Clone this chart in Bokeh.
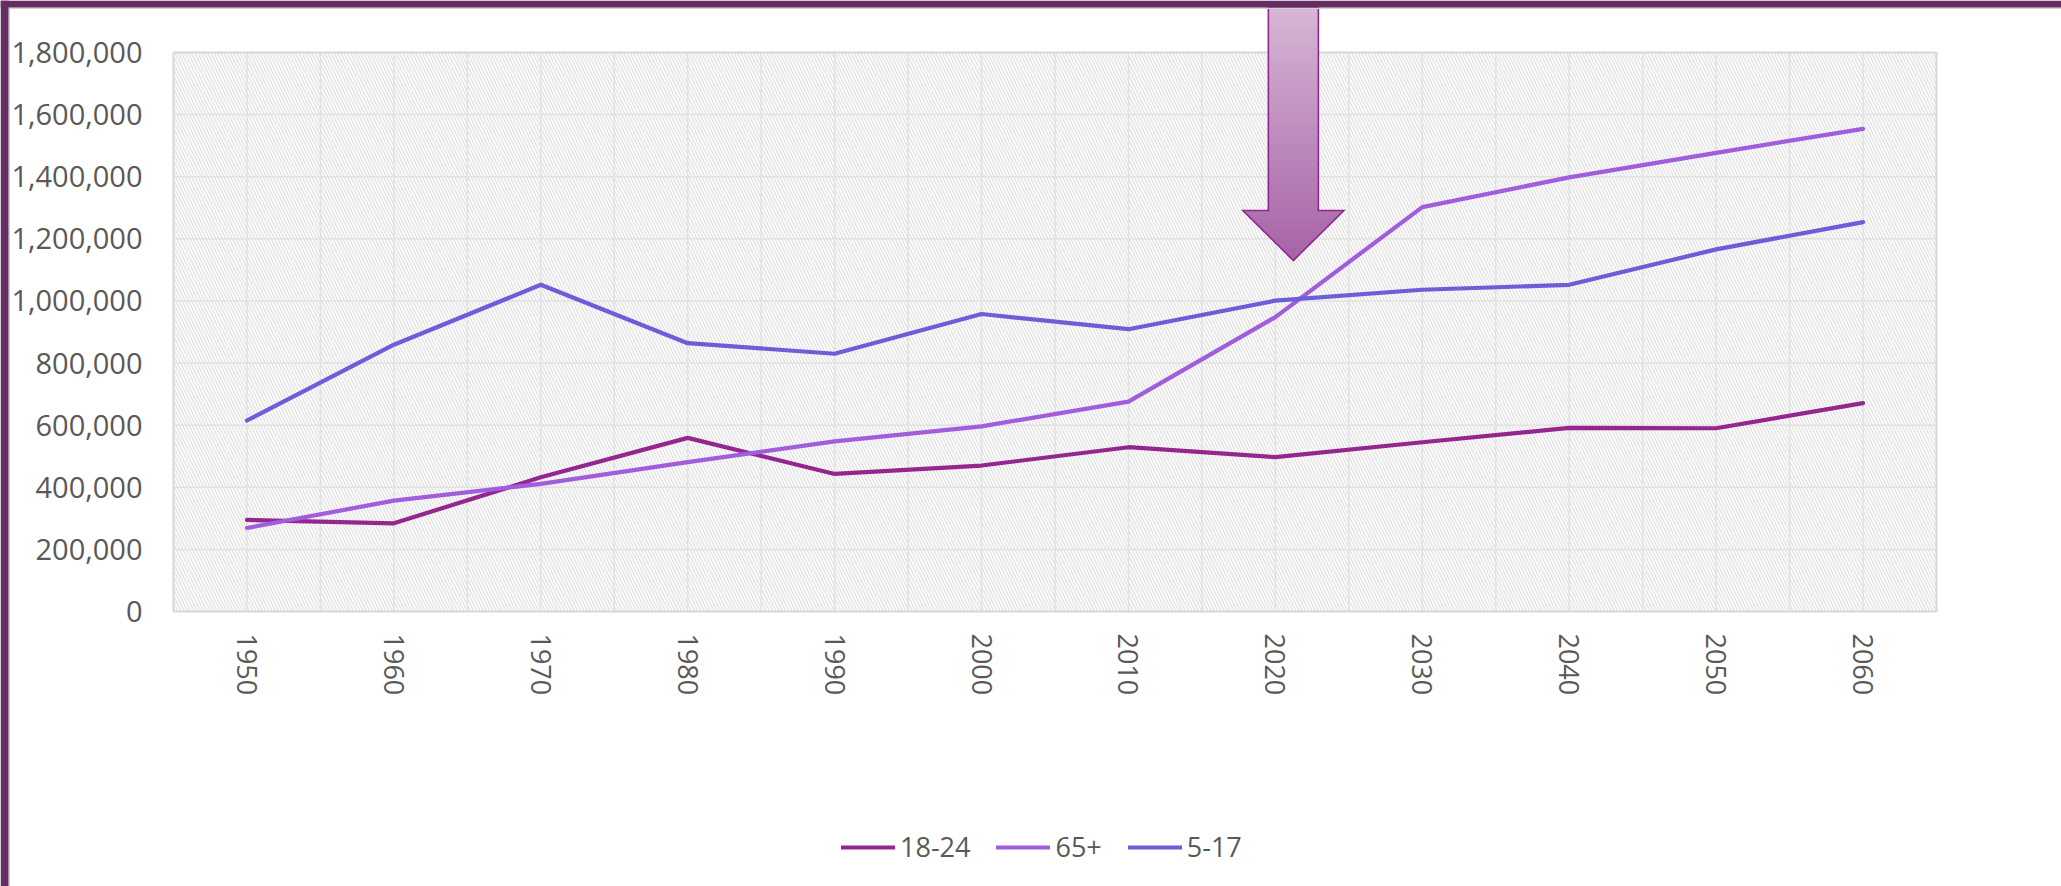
import math
from bokeh.plotting import figure
from bokeh.models import (Range1d, FixedTicker, NumeralTickFormatter, Legend, LegendItem,
                          LinearAxis, BoxAnnotation)
from bokeh.embed import file_html
from bokeh.resources import INLINE

# ---------------- data ----------------
years = [1950, 1960, 1970, 1980, 1990, 2000, 2010, 2020, 2030, 2040, 2050, 2060]
age_18_24 = [295000, 284000, 432000, 559000, 443000, 470000, 529000, 497000, 545000, 591000, 590000, 671000]
age_65_plus = [269000, 357000, 411000, 481000, 548000, 596000, 676000, 948000, 1302000, 1398000, 1477000, 1554000]
age_5_17 = [615000, 859000, 1052000, 864000, 830000, 958000, 909000, 1001000, 1036000, 1052000, 1166000, 1254000]
series_names = ["18-24", "65+", "5-17"]
y_ticks = [0, 200000, 400000, 600000, 800000, 1000000, 1200000, 1400000, 1600000, 1800000]
highlight_year = 2020

# ---------------- styling ----------------
FONT = "Open Sans"
TEXT = "#595959"
COLORS = ["#93278F", "#A25DDC", "#6C5DD8"]
GRID = "#E2E2E2"
BORDER = "#652D61"

W, H = 2061, 886
PLOT_L, PLOT_R, PLOT_T, PLOT_B = 173, 1936, 52, 611   # pixel box of the hatched area
n = len(years)
xs = list(range(n))
Y_TOP_VAL = y_ticks[-1]
ppx = (PLOT_R - PLOT_L) / n
ppy = (PLOT_B - PLOT_T) / Y_TOP_VAL
x_start = -0.5 - PLOT_L / ppx
x_end = -0.5 + (W - PLOT_L) / ppx
y_start = -(H - PLOT_B) / ppy
y_end = PLOT_B / ppy

p = figure(width=W, height=H, output_backend="svg", toolbar_location=None,
           x_range=Range1d(x_start, x_end), y_range=Range1d(y_start, y_end),
           x_axis_location=None, y_axis_location=None,
           min_border=0, min_border_left=0, min_border_right=0,
           min_border_top=0, min_border_bottom=0,
           background_fill_color="white", border_fill_color="white")
p.outline_line_color = None
p.xgrid.visible = False
p.ygrid.visible = False

# hatched plot area
p.quad(left=[-0.5], right=[n - 0.5], bottom=[0], top=[Y_TOP_VAL],
       fill_color="white", line_color=None,
       hatch_pattern="\\", hatch_color="#D2D2D2", hatch_alpha=0.9,
       hatch_scale=6.5, hatch_weight=1)

# grid lines (category centres and boundaries, every 200k)
vx = [i * 0.5 - 0.5 for i in range(2 * n + 1)]
p.segment(x0=vx, y0=[0] * len(vx), x1=vx, y1=[Y_TOP_VAL] * len(vx),
          line_color=GRID, line_width=1.5)
p.segment(x0=[-0.5] * len(y_ticks), y0=y_ticks, x1=[n - 0.5] * len(y_ticks), y1=y_ticks,
          line_color=GRID, line_width=1.5)
p.segment(x0=[-0.5, n - 0.5], y0=[0, 0], x1=[-0.5, n - 0.5], y1=[Y_TOP_VAL, Y_TOP_VAL],
          line_color="#D9D9D9", line_width=2)
p.segment(x0=[-0.5, -0.5], y0=[0, Y_TOP_VAL], x1=[n - 0.5, n - 0.5], y1=[0, Y_TOP_VAL],
          line_color="#D9D9D9", line_width=2)

# series
renderers = []
for name, vals, col in zip(series_names, [age_18_24, age_65_plus, age_5_17], COLORS):
    r = p.line(x=xs, y=vals, line_color=col, line_width=4.2,
               line_join="round", line_cap="round")
    renderers.append((name, r))

# ---------------- gradient arrow over the highlight year ----------------
hx = years.index(highlight_year)
cx = hx + 18 / ppx
shaft_hw = 25 / ppx
head_hw = 50.5 / ppx
y_arrow_top = (PLOT_B - 7) / ppy
y_shaft_bot = (PLOT_B - 210) / ppy
y_tip = (PLOT_B - 260) / ppy
c0 = (0xD6, 0xB7, 0xD5)
c1 = (0xA7, 0x62, 0xA7)

def mix(t):
    return "#%02x%02x%02x" % tuple(int(round(a + (b - a) * t)) for a, b in zip(c0, c1))

total = y_arrow_top - y_tip
strip_xs, strip_ys, strip_cols = [], [], []
N1, N2 = 40, 12
for i in range(N1):
    ya = y_arrow_top - (y_arrow_top - y_shaft_bot) * i / N1
    yb = y_arrow_top - (y_arrow_top - y_shaft_bot) * (i + 1) / N1
    t = (y_arrow_top - (ya + yb) / 2) / total
    strip_xs.append([cx - shaft_hw, cx + shaft_hw, cx + shaft_hw, cx - shaft_hw])
    strip_ys.append([ya, ya, yb, yb])
    strip_cols.append(mix(t))

def hw_at(y):
    return head_hw * (y - y_tip) / (y_shaft_bot - y_tip)

for i in range(N2):
    ya = y_shaft_bot - (y_shaft_bot - y_tip) * i / N2
    yb = y_shaft_bot - (y_shaft_bot - y_tip) * (i + 1) / N2
    t = (y_arrow_top - (ya + yb) / 2) / total
    wa, wb = hw_at(ya), hw_at(yb)
    strip_xs.append([cx - wa, cx + wa, cx + wb, cx - wb])
    strip_ys.append([ya, ya, yb, yb])
    strip_cols.append(mix(t))

p.patches(xs=strip_xs, ys=strip_ys, fill_color=strip_cols, line_color=strip_cols, line_width=1)
ax = [cx - shaft_hw, cx + shaft_hw, cx + shaft_hw, cx + head_hw, cx,
      cx - head_hw, cx - shaft_hw]
ay = [y_arrow_top, y_arrow_top, y_shaft_bot, y_shaft_bot, y_tip, y_shaft_bot, y_shaft_bot]
p.patch(x=ax, y=ay, fill_color=None, line_color="#8E2A8C", line_width=1.6, line_join="miter")

# ---------------- axes (pinned to the plot-area edges) ----------------
xa = LinearAxis(fixed_location=0)
xa.ticker = FixedTicker(ticks=xs)
xa.major_label_overrides = {i: str(y) for i, y in enumerate(years)}
xa.major_label_orientation = -math.pi / 2
xa.axis_line_color = None
xa.major_tick_line_color = None
xa.minor_tick_line_color = None
xa.major_tick_out = 0
xa.major_tick_in = 0
xa.major_label_standoff = 22
xa.major_label_text_font = FONT
xa.major_label_text_font_size = "27px"
xa.major_label_text_color = TEXT
p.add_layout(xa, "below")

ya_ = LinearAxis(fixed_location=-0.5)
ya_.ticker = FixedTicker(ticks=y_ticks)
ya_.formatter = NumeralTickFormatter(format="0,0")
ya_.axis_line_color = None
ya_.major_tick_line_color = None
ya_.minor_tick_line_color = None
ya_.major_tick_out = 0
ya_.major_tick_in = 0
ya_.major_label_standoff = 31
ya_.major_label_text_font = FONT
ya_.major_label_text_font_size = "29px"
ya_.major_label_text_color = TEXT
p.add_layout(ya_, "left")

# ---------------- legend ----------------
legend = Legend(items=[LegendItem(label=nm, renderers=[r]) for nm, r in renderers],
                orientation="horizontal", location=(841, 21),
                glyph_width=54, glyph_height=24, label_standoff=5, spacing=26,
                padding=0, margin=0, border_line_color=None, background_fill_alpha=0,
                label_text_font=FONT, label_text_font_size="27px", label_text_color=TEXT)
p.add_layout(legend)

# ---------------- page border (top and left) ----------------
for l, r_, t, b, c in [(0, W, 7, 8.5, "#D3D0D3"), (8, 9.5, 0, H, "#D3D0D3"),
                       (0, W, 0, 7, BORDER), (0, 8, 0, H, BORDER)]:
    p.add_layout(BoxAnnotation(left=l, right=r_, top=t, bottom=b,
                               left_units="canvas", right_units="canvas",
                               top_units="canvas", bottom_units="canvas",
                               fill_color=c, fill_alpha=1, line_color=None))

open("out.html", "w").write(file_html(p, INLINE))
